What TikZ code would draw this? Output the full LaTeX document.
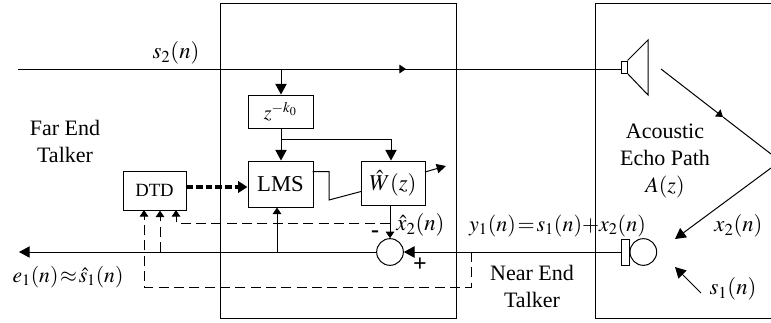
\documentclass[tikz,border=0pt]{standalone}
\usepackage{amsmath}
\usepackage[no-math]{fontspec}
\usepackage{mathptmx}
\setmainfont{Liberation Serif}
\usepackage{tikz}
\usetikzlibrary{arrows.meta}
\tikzset{
  blockbox/.style={draw, inner sep=0pt, font=\fontsize{17}{18}\selectfont},
  talker/.style={align=center, inner sep=0pt, font=\fontsize{16.5}{20.2}\selectfont},
  sigtext/.style={inner sep=0pt, font=\fontsize{17}{18}\selectfont},
  bigtip/.style={-{Triangle[length=8pt,width=8.5pt]}},
  smalltip/.style={-{Triangle[length=5pt,width=6.5pt]}},
  dashline/.style={dash pattern=on 7.5pt off 4pt},
}
\thickmuskip=1.5mu
\medmuskip=0mu
\begin{document}
\begin{tikzpicture}[x=0.75pt, y=-0.75pt, line width=0.75pt]
\useasboundingbox (0,0) rectangle (771,322);

% Rooms
\draw (220,3) rectangle (456,318);
\draw (771,3) -- (595,3) -- (595,318) -- (771,318);

% Blocks
\node[blockbox, minimum width=48.75pt, minimum height=24.75pt, font=\fontsize{15}{18}\selectfont] (delay) at (280.5,111.5) {$z^{-k_0}$};
\node[blockbox, minimum width=48.75pt, minimum height=34.5pt] (lms) at (280.5,184) {LMS};
\node[blockbox, minimum width=48pt, minimum height=33pt] (filter) at (393,183) {$\hat{W}(z)$};
\node[blockbox, minimum width=47.25pt, minimum height=29.25pt, font=\fontsize{14}{16}\selectfont] (dtd) at (154.5,190.5) {DTD};
\node[draw, circle, minimum size=20pt, inner sep=0pt] (sum) at (390,252) {};

% Speaker
\node[draw, minimum width=4.5pt, minimum height=9pt, inner sep=0pt] (horn) at (624,67) {};
\draw (horn.north east) -- (648,40) -- (648,95) -- (horn.south east);

% Microphone
\node[draw, minimum width=6pt, minimum height=19.5pt, inner sep=0pt] (micbase) at (625,252) {};
\node[draw, circle, minimum size=20pt, inner sep=0pt, anchor=west] (mic) at (micbase.east) {};

% Free ends and junctions
\coordinate (s2in) at (18,69);
\coordinate (s2tap) at (281,69);
\coordinate (s2mark) at (383,69);
\coordinate (s2tip) at (406,69);
\coordinate (delaytap) at (281,139);
\coordinate (filtertop) at (391,139);
\coordinate (eout) at (19,252);
\coordinate (lmstap) at (277,252);
\coordinate (dtdtap) at (160,252);
\coordinate (echostart) at (661,69);
\coordinate (echomid) at (723,117);
\coordinate (echoturn) at (771,154);
\coordinate (echoback) at (771,168);
\coordinate (echotip) at (675,239);
\coordinate (s1start) at (701,293);
\coordinate (s1tip) at (675,267);

% Far end signal
\draw (s2in) -- (horn.west |- s2in);
\draw[smalltip] (s2mark) -- (s2tip);
\draw[bigtip] (s2tap) -- (delay.north -| s2tap);
\draw[bigtip] (delay.south -| delaytap) -- (lms.north -| delaytap);
\draw[bigtip] (delaytap) -- (filtertop) -- (filter.north -| filtertop);

% Adaptive filter
\draw (312.5,171.5) -- (329,171.5) -- (329,200) -- (361,191.5);
\draw[-{Triangle[length=7pt,width=7pt]}] (425,172) -- (446,166);
\draw[smalltip] (filter.south -| sum) -- (sum.north);
\draw[smalltip] (lmstap) -- (lms.south -| lmstap);

% Near end signal
\draw[bigtip] (micbase.west) -- (sum.east);
\draw[bigtip] (sum.west) -- (eout);

% Double talk detector
\draw[-{Triangle[length=7pt,width=8.5pt]}, line width=2.5pt, dash pattern=on 5pt off 2.2pt] (dtd.east |- 0,187) -- (lms.west |- 0,187);
\draw[smalltip, dashline] (471,252) -- (471,287) -- (144,287) -- (144,210);
\draw[smalltip, dashline] (dtdtap) -- (dtdtap |- dtd.south);
\draw[smalltip, dashline] (390,223) -- (176,223) -- (176,210);

% Echo path
\draw (echomid) -- (echoturn);
\draw[smalltip] (echostart) -- (echomid);
\draw[bigtip] (echoback) -- (echotip);
\draw[bigtip] (s1start) -- (s1tip);

% Labels
\node[sigtext] (s2label) at (176,53) {$s_2(n)$};
\node[talker] (farend) at (65,141.5) {Far End\\Talker};
\node[talker] (nearend) at (532,286.5) {Near End\\Talker};
\node[talker] (acoustic) at (665,161) {Acoustic\\Echo Path\\$A(z)$};
\node[sigtext, font=\fontsize{16.2}{18}\selectfont] (elabel) at (68,277) {$e_1(n)\approx\hat{s}_1(n)$};
\node[sigtext] (x2hat) at (420.5,225) {$\hat{x}_2(n)$};
\node[sigtext, font=\fontsize{16.5}{18}\selectfont] (ylabel) at (557.5,226) {$y_1(n)=s_1(n)+x_2(n)$};
\node[sigtext] (x2label) at (738.5,226) {$x_2(n)$};
\node[sigtext] (s1label) at (733,289) {$s_1(n)$};
\node[sigtext, font=\bfseries\fontsize{18}{18}\selectfont] (minus) at (375,234) {-};
\node[sigtext, font=\bfseries\fontsize{18}{18}\selectfont] (plus) at (420,265) {+};
\end{tikzpicture}
\end{document}
